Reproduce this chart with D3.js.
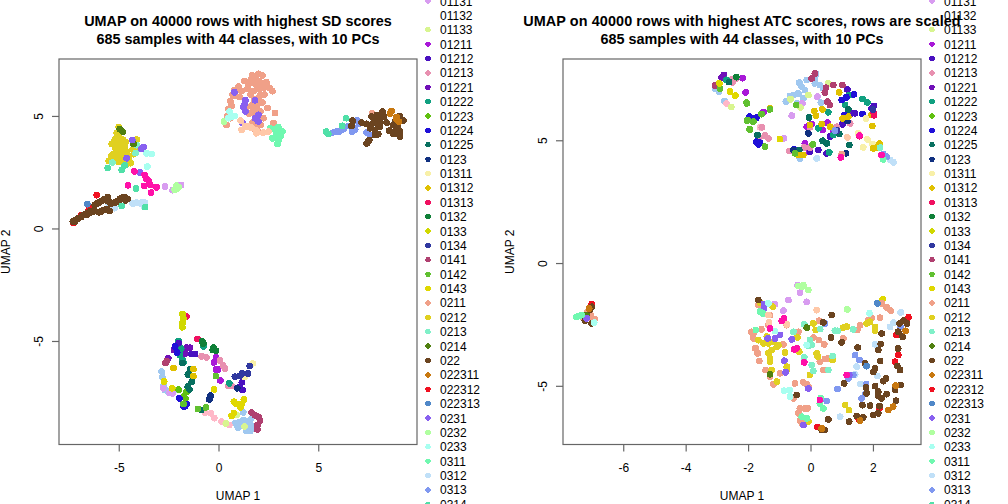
<!DOCTYPE html>
<html>
<head>
<meta charset="utf-8">
<script src="https://cdn.jsdelivr.net/npm/d3@7"></script>
<style>
html, body { margin: 0; padding: 0; background: #fff; overflow: hidden; }
text { font-family: "Liberation Sans", Arial, sans-serif; fill: #000; }
</style>
</head>
<body>
<svg id="chart" width="1008" height="504"></svg>
<script>
// legend entries that are visible (the rest of the R legend runs off the device)
var legendLabels = ["01131","01132","01133","01211","01212","01213","01221","01222","01223","01224","01225","0123","01311","01312","01313","0132","0133","0134","0141","0142","0143","0211","0212","0213","0214","022","022311","022312","022313","0231","0232","0233","0311","0312","0313","0314"];
var legendColors = ["#d89cf0","#ffffff","#d8f590","#a818d8","#4a10c0","#e890b0","#7010b8","#10a080","#60c010","#2010d8","#087060","#103080","#f8f0a8","#e0c000","#f01060","#108038","#d0d800","#3038a0","#b04070","#60c030","#e0d800","#f0a088","#e0d020","#80f0c8","#508010","#6b4420","#c87810","#f01020","#5088c8","#8860f0","#b0ffa0","#a8fff0","#70f8b0","#c0e0f8","#8098f0","#50e0a8"];
// classes whose legend rows are cut off
var hiddenLabels = ["hiddenBlue","hiddenPink","hiddenPeach","hiddenMagenta"];
var hiddenColors = ["#a0c8f0","#ffb8c8","#ffc8a8","#ff10a8"];

// SD panel, [UMAP 1, UMAP 2] per class
var sd_hiddenBlue = [[-2.85,-6.36],[-2.82,-6.6],[-2.73,-6.8],[-2.76,-6.99],[-2.68,-7.18],[-2.51,-7.25],[-2.26,-7.25],[0.91,-8.73],[1.05,-8.6],[1.24,-8.51],[1.49,-8.58],[1.6,-8.5],[1.74,-8.81],[1.38,-8.99],[1.6,-8.99],[0.83,-8.65],[1.24,-8.17],[1.15,-8.7],[1.4,-8.75],[1.55,-8.7],[1.0,-8.85]];
var sd_hiddenPink = [[-0.67,-8.18],[-0.38,-8.21],[-0.21,-8.43],[0.15,-8.58],[0.54,-8.73]];
var sd_01131 = [[-2.68,1.86],[-2.3,1.7],[-1.88,1.93],[-2.3,-7.33],[-2.77,-7.1],[-2.45,-7.3]];
var sd_01133 = [[0.37,-8.66],[0.91,-8.29],[1.3,-8.8]];
var sd_01211 = [[-0.13,-5.72],[-0.23,-5.95],[-0.13,-6.27],[-0.03,-6.27],[0.09,-6.75]];
var sd_01212 = [[-2.0,-5.1],[-1.35,-5.58],[-1.18,-5.58],[1.17,-6.84],[1.2,-7.18],[1.07,-7.05]];
var sd_01213 = [[-0.85,-5.68],[-0.6,-5.73],[0.07,-5.86],[0.24,-6.1],[0.32,-6.22],[0.5,-7.0],[0.67,-7.0]];
var sd_01221 = [[-1.6,-5.3],[-1.43,-5.3],[-2.23,-5.4],[-1.68,-5.55],[-2.52,-5.77]];
var sd_01222 = [[-0.76,-5.24],[-2.0,-5.0],[-1.87,-5.33],[-1.93,-5.62],[-1.8,-5.85],[-1.76,-5.96],[-1.54,-7.03],[0.54,-6.88]];
var sd_01223 = [[-1.6,-7.26],[-1.76,-7.47],[-1.66,-7.55],[-2.0,-7.16]];
var sd_01224 = [[-2.18,-5.25],[-2.07,-5.52],[-1.96,-7.55],[-1.68,-7.9],[-1.76,-7.9],[-1.6,-7.8]];
var sd_01225 = [[-1.42,-6.26],[-1.54,-6.49],[-1.34,-6.81],[-1.54,-7.03],[-1.8,-5.98],[-0.87,-8.07],[-1.46,-7.15]];
var sd_0123 = [[-0.39,-7.43],[-0.46,-7.6],[0.94,-7.1]];
var sd_01311 = [[1.71,-6.0],[1.3,-6.6]];
var sd_01312 = [[-2.26,-6.2],[-1.26,-6.25],[-1.26,-6.56]];
var sd_01313 = [[-1.61,-3.92],[-1.06,-4.91]];
var sd_0132 = [[-0.81,-5.02],[-0.76,-5.12],[-0.26,-5.3],[-0.13,-5.43],[-0.29,-5.4]];
var sd_0133 = [[-1.8,-3.8],[-1.76,-4.0],[-1.8,-4.2],[-1.81,-4.39]];
var sd_0134 = [[0.82,-6.59],[1.07,-6.55],[1.2,-6.44],[1.48,-6.44],[1.57,-6.11]];
var sd_0141 = [[-2.6,-5.9],[-2.66,-5.98],[1.66,-8.18],[1.83,-8.3],[2.0,-8.37],[2.08,-8.55],[1.95,-8.74],[1.95,-8.93]];
var sd_0142 = [[-0.13,-6.56],[-1.76,-7.8],[-1.03,-8.02],[-0.63,-7.95]];
var sd_0143 = [[-0.22,-7.15],[0.77,-7.7],[0.9,-7.8],[1.1,-7.95],[1.27,-7.6],[1.16,-7.8],[0.77,-8.2],[0.66,-8.33],[-2.72,-6.8],[-2.32,-7.1]];
var sd_0211 = [[1.7,6.8],[2,6.87],[2.2,6.8],[2.4,6.5],[1.6,6.5],[1.85,6.4],[2.15,6.45],[2.55,6.25],[2.7,6.1],[1.45,6.2],[1.75,6.1],[2.0,6.2],[0.75,5.9],[1.05,5.85],[0.6,5.65],[1.4,5.4],[2.0,5.8],[2.2,5.6],[2.45,5.35],[1.55,5.1],[1.9,5.4],[2.1,5.2],[0.5,5.3],[0.45,5.0],[0.6,4.9],[0.4,4.6],[1.9,4.9],[1.7,4.7],[2.1,4.6],[1.8,4.4],[2.0,4.3],[2.83,5.13],[2.25,4.9],[2.75,4.69],[2.85,4.5],[7.7,5.12],[1.0,6.3],[0.8,6.15],[0.7,5.95],[1.15,6.1],[1.65,6.65],[1.85,6.65],[2.0,6.55],[2.25,6.25],[1.6,5.95],[1.8,5.75],[2.0,5.55],[1.95,5.2],[1.75,5.3],[1.85,5.05],[2.1,5.95],[1.7,5.5],[2.3,5.95],[0.65,5.45],[1.5,6.4],[1.3,6.55],[1.95,4.6]];
var sd_0212 = [[-5.0,4.5],[-4.9,4.35],[-5.1,4.25],[-5.05,4.05],[-5.2,3.95],[-5.35,3.75],[-5.2,3.65],[-5.0,3.8],[-4.8,3.95],[-4.65,3.85],[-4.7,3.6],[-4.95,3.5],[-5.15,3.4],[-5.35,3.25],[-5.1,3.2],[-4.85,3.3],[-4.6,3.4],[-4.5,3.15],[-4.4,2.9],[-4.6,2.85],[-5.5,3.0],[-5.2,3.05],[-5.0,2.95],[-4.75,3.05],[-4.3,3.9],[-4.1,3.95],[-4.15,3.6],[-4.3,3.5],[-4.25,3.3],[-4.95,4.25],[-5.1,3.75],[-4.9,3.65],[-5.25,3.3],[-5.0,3.1],[-4.75,3.45],[-4.9,3.1],[-5.15,3.55],[-4.85,3.75],[-4.65,3.2],[-5.4,3.1],[-4.55,3.0]];
var sd_0213 = [[-5.32,2.93],[-4.1,3.7],[-4.15,3.35]];
var sd_0214 = [[-4.95,4.42],[-4.8,4.3],[-4.25,3.75]];
var sd_022 = [[-7.3,0.3],[-7.15,0.38],[-7.0,0.46],[-6.85,0.55],[-6.7,0.62],[-6.55,0.68],[-6.4,0.72],[-6.2,0.78],[-6.0,0.72],[-5.8,0.8],[-5.6,0.85],[-5.45,0.78],[-6.2,1.05],[-6.0,1.15],[-5.8,1.25],[-5.55,1.4],[-5.5,1.2],[-5.4,1.1],[-5.2,1.15],[-5.0,1.2],[-4.85,1.35],[-4.7,1.4],[-4.55,1.3],[6.72,4.79],[6.67,4.55],[7.18,4.7],[7.43,4.65],[7.68,4.97],[7.93,5.04],[8.23,5.19],[8.3,4.97],[7.76,4.68],[7.6,4.45],[7.85,4.37],[8.1,4.52],[7.85,4.15],[8.01,4.19],[7.56,3.93],[7.43,3.78],[7.5,3.87],[8.56,4.35],[8.43,4.7],[8.76,4.59],[8.85,4.74],[8.93,4.37],[9.1,4.3],[9.1,4.08],[9.27,4.79],[9.07,5.0],[-7.2,0.3],[-7.05,0.42],[-6.9,0.5],[-6.75,0.6],[-6.6,0.62],[-6.45,0.75],[-6.3,0.75],[-5.9,0.75],[-5.7,0.83],[-6.1,1.1],[-5.9,1.2],[-5.7,1.3],[-5.6,1.25],[-5.1,1.2],[-4.95,1.3],[-4.78,1.4],[-4.65,1.25],[8.1,4.75],[7.9,4.8],[8.0,4.6],[8.15,4.95],[8.75,4.2],[8.9,4.2],[9.0,4.5]];
var sd_022311 = [[8.68,5.22],[8.6,5.1],[8.93,4.85],[8.93,4.95],[9.05,4.74]];
var sd_022312 = [[-6.5,0.85],[-6.35,0.9],[-6.1,1.48],[-6.9,0.58],[-7.27,0.25]];
var sd_022313 = [[-6.58,1.08]];
var sd_0231 = [[-3.93,2.48],[-3.85,3.53],[-3.75,3.62],[-4.32,3.93],[-4.6,3.12],[0.8,6.05],[1.35,5.7],[1.25,5.4],[1.35,5.2],[1.3,5.5],[1.83,5.7],[2.0,5.05],[1.83,4.9],[2.0,4.75],[1.2,4.7]];
var sd_0232 = [[-2.08,1.78],[-2,1.85],[-2.2,1.72],[-2.1,1.9],[0.28,4.75]];
var sd_0233 = [[-3.6,3.34],[-3.35,3.31],[-3.57,2.75],[0.55,5.2],[0.5,4.9],[0.82,5.0],[0.65,4.95]];
var sd_0311 = [[2.7,4.0],[2.8,4.4],[2.9,4.2],[3.0,4.5],[3.1,4.1],[3.0,3.9],[3.2,4.3],[2.95,3.75],[2.6,4.45],[2.85,4.05]];
var sd_0312 = [[-5.5,1.1],[-5.2,1.15],[-5.3,0.95],[-5.2,0.9],[-5.35,1.05],[-4.3,1.1],[-4.1,1.15],[-3.9,1.1],[-3.8,1.18],[-3.7,1.15],[-3.75,1.0]];
var sd_0313 = [[5.7,4.25],[5.9,4.3],[6.05,4.3],[6.3,4.45],[6.5,4.55],[6.2,4.4],[6.7,4.3],[6.75,4.5],[6.95,4.8],[7.05,4.65],[6.85,4.4],[7.43,4.26],[7.6,4.13]];
var sd_0314 = [[-4.85,1.0],[-3.68,0.95],[-4.13,1.78],[-5.55,2.68],[-4.85,2.6],[-4.7,2.8],[5.4,4.3],[5.5,4.2],[6.4,4.9],[6.2,4.56]];
var sd_hiddenPeach = [[1.11,4.79],[1.16,4.38],[1.5,4.52],[1.35,4.54],[1.65,4.48],[1.9,4.23],[1.9,4.35],[2.25,4.26],[2.5,4.3]];
var sd_hiddenMagenta = [[-4.22,2.54],[-4.53,1.92],[-3.73,1.89],[-3.42,1.93],[-3.1,1.83],[-3.38,1.59],[-3.7,2.38],[-3.62,2.22],[-3.5,2.12]];

// ATC panel
var atc_hiddenBlue = [[-3.06,7.1],[-2.93,6.99],[-2.75,6.6],[0.18,7.7],[0.14,7.52],[-0.12,7.45],[-0.36,7.35],[-0.28,7.18],[-0.18,7.05],[0.14,7.32],[0.3,7.25],[0.41,7.11],[-0.55,6.84],[-0.39,6.91],[-0.66,6.8],[-0.79,6.57],[-0.44,6.5],[-0.23,6.71],[0.33,6.53],[-0.34,4.26]];
var atc_hiddenPink = [[-2.69,6.5],[-1.62,5.53]];
var atc_01131 = [[0.22,6.78],[-0.26,6.5],[-0.6,6.0],[-0.85,5.08],[-0.34,-1.21],[-0.41,-0.9],[-0.71,-1.51],[-0.12,-1.58],[-1.14,-1.67],[-0.87,-1.94]];
var atc_01133 = [[-2.54,6.36],[0.57,7.32],[-0.07,6.84],[-0.64,6.67],[-0.32,6.33]];
var atc_01211 = [[-2.18,7.53],[-2.08,6.95],[-1.51,6.15],[-0.18,4.87],[0.54,5.72],[0.04,5.66],[0.39,5.42],[-0.12,5.55],[0.73,5.38],[-0.05,4.53]];
var atc_01212 = [[1.18,7.07],[1.32,6.1],[1.43,6.1],[1.02,5.65],[0.63,5.15],[0.78,5.42],[0.25,4.6],[0.52,4.47],[-0.02,4.53],[2.03,6.4],[1.96,6.3],[-1.83,5.89]];
var atc_01213 = [[-2.53,7.48],[-2.38,7.52],[-2.5,7.35],[-1.56,5.53],[-1.46,5.19],[-1.35,5.08],[-1.64,5.12],[-0.02,5.53],[-0.21,4.71],[-0.02,4.7],[0.84,5.55],[1.27,5.69],[-0.68,4.56]];
var atc_01221 = [[-2.77,7.66],[-2.85,7.55],[1.2,6.12]];
var atc_01222 = [[-2.69,7.46],[1.24,6.84],[1.11,6.44],[1.67,6.68],[1.82,6.54],[0.57,6.14],[0.25,5.49],[0.73,5.21],[0.6,4.51]];
var atc_01224 = [[-1.95,5.93],[-1.96,5.96],[-1.73,5.92],[-1.73,4.94],[-1.67,4.83],[-1.62,4.9],[1.0,6.64],[1.39,6.87],[1.09,6.03],[1.67,6.07],[-0.53,4.63],[1.15,6.75]];
var atc_01225 = [[-2.61,7.37],[1.21,6.26],[-0.05,5.93],[0.39,4.98],[0.52,4.87],[1.24,4.81],[0.92,5.25],[-0.36,4.6],[-1.7,5.21]];
var atc_0123 = [[-0.07,5.28],[1.18,5.78],[1.14,4.47],[-0.55,4.6]];
var atc_01311 = [[1.78,5.89],[1.82,5.04],[1.53,5.28],[1.69,4.71],[1.99,4.85]];
var atc_01312 = [[0.92,6.95],[0.12,6.19],[0.17,6],[0.38,6.26],[-1.3,6.3],[1.03,5.89],[1.21,5.96],[1.98,5.58],[0.36,5.66],[-0.02,5.62],[0.63,5.55],[1.96,6.03],[-0.39,4.4],[-0.23,4.4],[2.12,4.71],[2.01,4.67],[2.21,4.87]];
var atc_01313 = [[2.01,6.16],[2.03,6.02],[1.57,5.17]];
var atc_0132 = [[-2.38,7.57]];
var atc_0134 = [[2.0,6.25],[0.85,5.4]];
var atc_0141 = [[-3.06,7.23],[0.04,7.52],[0.14,7.72],[0.5,7.14],[0.73,7.25],[0.46,6.94],[1.02,7.25],[0.54,6.57],[0.62,6.44]];
var atc_0142 = [[-2.9,7.1],[-2.04,6.5],[-2.02,5.8],[-1.95,5.45],[-2.02,5.82],[-1.83,5.76],[-1.94,5.44],[-1.46,4.74],[-1.57,6.06],[-1.3,6.26],[-2.05,6.53],[0.07,4.83],[-0.5,4.47],[-0.46,6.44]];
var atc_0143 = [[-2.92,7.32],[-2.58,6.99],[-2.41,6.82],[-0.98,5.05],[2.31,-1.48]];
var atc_0211 = [[-7.07,-2.05],[-7.12,-2.19],[-7.01,-2.25],[-6.91,-2.28],[-7.28,-2.25],[-7.15,-1.98],[-7.05,-2.12],[-1.67,-1.71],[-1.89,-2.8],[-1.83,-3.07],[-1.78,-3.47],[-1.69,-3.68],[-1.64,-3.99],[-1.44,-4.36],[-1.3,-4.63],[-1.19,-4.94],[-1.57,-2.7],[-0.87,-3.31],[-0.98,-4.49],[-0.5,-4.9],[-0.23,-4.86],[-0.12,-4.94],[-0.07,-5.04],[0.3,-4.02],[0.46,-3.91],[0.57,-3.88],[0.41,-4.36],[0.09,-3.04],[0.27,-3.14],[0.44,-3.31],[1.05,-3.07],[-0.39,-2.8],[-1.3,-2.12],[-0.55,-5.51],[-0.34,-5.92],[-0.39,-6.12],[-0.34,-6.4],[-0.18,-5.92],[-0.09,-5.92],[-0.28,-6.53],[-1.83,-2.87],[-1.75,-3.48],[-0.76,-2.53],[-0.55,-2.8],[-1.35,-2.53],[2.28,-1.64],[2.44,-1.81],[2.57,-1.94],[2.23,-2.23],[1.96,-2.23],[1.85,-2.33],[1.59,-2.53],[1.5,-2.73],[0.28,-2.35],[1.0,4.44],[1.18,5.12]];
var atc_0212 = [[-1.62,-1.62],[-1.21,-1.78],[-1.67,-3.14],[-1.51,-3.27],[-1.35,-3.27],[-1.19,-3.2],[-1.08,-3.41],[-1.03,-3.34],[-1.24,-3.54],[-1.35,-3.68],[-1.3,-3.88],[-1.3,-4.02],[-1.24,-4.36],[-1.4,-3.0],[-0.82,-3.64],[-0.76,-4.22],[-0.76,-4.36],[-1.08,-4.83],[0.2,-3.68],[0.23,-3.81],[0.7,-3.95],[-0.02,-4.56],[-0.42,-3.03],[-0.36,-3.61],[0.17,-2.73],[0.09,-2.46],[1.05,-2.63],[1.16,-2.59],[1.11,-5.78],[1.23,-5.99],[-0.07,-6.46],[1.8,-2.46],[1.91,-2.39],[2.07,-2.6],[2.07,-2.76]];
var atc_0213 = [[-0.07,-3.37],[0.04,-3.34],[-0.02,-3.14],[-0.2,-3.84],[0.04,-4.16],[0.09,-4.4],[0.57,-4.36],[0.71,-3.79],[0.78,-2.76],[0.87,-2.76],[1.37,-2.7],[0.31,-2.69],[-0.2,-2.5],[-0.55,-2.8],[-1.51,-2.05],[2.23,4.7]];
var atc_0214 = [[-7.17,-2.12],[-0.12,-2.63],[-1.3,-4.53]];
var atc_022 = [[-7.01,-1.78],[-7.07,-1.89],[-7.23,-2.35],[-7.01,-2.46],[-1.67,-1.51],[0.68,-2.12],[0.41,-2.42],[2.98,-2.35],[3.09,-2.46],[2.85,-2.46],[2.81,-2.8],[2.95,-3.0],[2.28,-2.87],[0.66,-3.03],[1.0,-3.23],[1.51,-3.44],[2.25,-3.3],[2.17,-3.54],[2.81,-3.48],[2.23,-3.99],[1.75,-4.09],[2.78,-4.2],[2.87,-4.36],[2.07,-4.29],[2.01,-4.43],[2.42,-4.7],[2.33,-4.81],[1.08,-4.9],[2.89,-4.97],[2.71,-5.17],[2.07,-5.01],[1.78,-5.07],[1.8,-5.31],[2.17,-5.24],[2.17,-5.42],[2.44,-5.34],[2.28,-5.51],[2.74,-5.61],[-0.44,-5.38],[1.91,-5.81],[1.66,-5.79],[2.21,-5.83],[2.17,-6.12],[2.01,-6.19],[1.69,-6.29],[1.48,-6.23],[1.24,-6.46],[0.57,-6.37],[0.46,-6.8],[0.36,-6.8]];
var atc_022311 = [[-7.09,-1.85],[3.05,-2.76],[2.73,-4.99],[2.49,-5.99],[2.65,-5.85],[1.59,-6.42],[0.36,-6.74]];
var atc_022312 = [[-7.01,-1.67],[2.76,-2.93],[2.81,-3.75],[2.71,-4.02],[2.21,-5.92],[1.55,-6.37],[0.22,-6.68],[3.14,-2.21]];
var atc_022313 = [[2.14,-1.64],[1.8,-4.2]];
var atc_0231 = [[-7.17,-2.25],[-1.49,-1.67],[-1.49,-1.85],[-1.37,-3.07],[-1.14,-3.07],[-0.98,-2.93],[-0.6,-3.11],[-0.84,-3.98],[-0.8,-4.45],[-0.07,-5.11],[-0.23,-6.6],[1.24,-4.56]];
var atc_0232 = [[-0.28,-0.96],[-0.39,-0.94],[-0.23,-0.9],[-0.07,-1.1],[1.18,-1.89]];
var atc_0233 = [[-6.93,-2.43],[-1.35,-1.64],[-0.12,-3.34],[-1.14,-2.77],[-0.85,-5.2],[-0.66,-5.44],[-0.66,-5.17],[1.89,-2.05]];
var atc_0311 = [[-7.5,-2.19],[-7.39,-2.15],[-7.34,-2.12],[-1.53,-2.05],[-1.62,-1.98],[-1.75,-2.73],[0.3,-5.72],[0.41,-5.92],[0.33,-5.5],[-0.28,-6.26],[-0.12,-6.33],[2.33,4.22]];
var atc_0312 = [[0.2,4.26],[2.55,4.2],[2.66,4.1],[0.95,-6.26],[2.07,-3.31],[1.48,-4.22],[1.59,-4.93],[1.43,-4.54],[2.55,-2.6],[2.66,-2.43],[2.14,-4.6],[2.89,-2.01]];
var atc_0313 = [[2.33,4.44],[2.44,4.33],[0.78,5.39],[2.89,-2.6],[1.43,-3.75],[1.57,-3.95],[1.21,-4.7],[1.37,-4.56],[0.87,-5.13],[1.78,-4.93],[1.77,-5.31],[1.64,-5.51],[0.46,-2.46],[0.52,-5.62]];
var atc_hiddenPeach = [[1.18,5.12],[-1.33,-2.42],[0.2,-1.92],[-1.35,-2.12],[-0.76,-2.5]];
var atc_hiddenMagenta = [[0.97,4.3],[1.57,5.19],[2.28,4.4],[-1.3,-2.66],[-0.85,-2.25],[-0.92,-2.36],[-0.44,-3.47],[-0.52,-3.52],[-0.2,-4.05],[1.16,-4.56],[0.3,-5.58]];

var sdSeries = [["hiddenBlue",sd_hiddenBlue],["hiddenPink",sd_hiddenPink],["01131",sd_01131],["01133",sd_01133],["01211",sd_01211],["01213",sd_01213],["01221",sd_01221],["01222",sd_01222],["01212",sd_01212],["01223",sd_01223],["01224",sd_01224],["01225",sd_01225],["0123",sd_0123],["01311",sd_01311],["01312",sd_01312],["01313",sd_01313],["0132",sd_0132],["0133",sd_0133],["0134",sd_0134],["0141",sd_0141],["0142",sd_0142],["0143",sd_0143],["0211",sd_0211],["0212",sd_0212],["0213",sd_0213],["0214",sd_0214],["0312",sd_0312],["0313",sd_0313],["022312",sd_022312],["022",sd_022],["022311",sd_022311],["022313",sd_022313],["0231",sd_0231],["0232",sd_0232],["0233",sd_0233],["0311",sd_0311],["0314",sd_0314],["hiddenPeach",sd_hiddenPeach],["hiddenMagenta",sd_hiddenMagenta]];
var atcSeries = [["hiddenBlue",atc_hiddenBlue],["hiddenPink",atc_hiddenPink],["01131",atc_01131],["01133",atc_01133],["01211",atc_01211],["01212",atc_01212],["01213",atc_01213],["01221",atc_01221],["01222",atc_01222],["01224",atc_01224],["01225",atc_01225],["0123",atc_0123],["01311",atc_01311],["01312",atc_01312],["01313",atc_01313],["0132",atc_0132],["0134",atc_0134],["0141",atc_0141],["0142",atc_0142],["0143",atc_0143],["0211",atc_0211],["0212",atc_0212],["0213",atc_0213],["0214",atc_0214],["0312",atc_0312],["0313",atc_0313],["022312",atc_022312],["022",atc_022],["022311",atc_022311],["022313",atc_022313],["0231",atc_0231],["0232",atc_0232],["0233",atc_0233],["0311",atc_0311],["hiddenPeach",atc_hiddenPeach],["hiddenMagenta",atc_hiddenMagenta]];

var sdXTicks = [-5, 0, 5], sdYTicks = [-5, 0, 5];
var atcXTicks = [-6, -4, -2, 0, 2], atcYTicks = [-5, 0, 5];
var titleLine2 = "685 samples with 44 classes, with 10 PCs";

var svg = d3.select("#chart");
var color = d3.scaleOrdinal(legendLabels.concat(hiddenLabels), legendColors.concat(hiddenColors));

function renderPanel(cfg) {
    var left = cfg.left, right = left + 358, top = 59, bottom = 444.5;
    var x = d3.scaleLinear().domain(cfg.xDomain).range([left, right]);
    var y = d3.scaleLinear().domain(cfg.yDomain).range([bottom, top]);
    var g = svg.append("g");

    var points = [];
    cfg.series.forEach(function (s) {
        s[1].forEach(function (p) { points.push({ k: s[0], x: p[0], y: p[1] }); });
    });
    g.selectAll("circle").data(points).enter().append("circle")
        .attr("cx", function (d) { return x(d.x); })
        .attr("cy", function (d) { return y(d.y); })
        .attr("r", 3.4)
        .attr("shape-rendering", "crispEdges")
        .style("fill", function (d) { return color(d.k); });

    g.append("rect").attr("x", left).attr("y", top)
        .attr("width", right - left).attr("height", bottom - top)
        .style("fill", "none").style("stroke", "#666").style("stroke-width", 1.2);

    // R prints a plain hyphen on its axes
    var xa = g.append("g").attr("transform", "translate(0," + bottom + ")")
        .call(d3.axisBottom(x).tickValues(cfg.xTicks).tickSize(7).tickPadding(12).tickFormat(String));
    var ya = g.append("g").attr("transform", "translate(" + left + ",0)")
        .call(d3.axisLeft(y).tickValues(cfg.yTicks).tickSize(7).tickFormat(String));
    [xa, ya].forEach(function (a) {
        a.select(".domain").remove();
        a.selectAll("line").style("stroke", "#666").style("stroke-width", 1.2);
        a.selectAll("text").attr("font-size", 12).style("font-family", "Liberation Sans");
    });
    ya.selectAll("text")
        .attr("x", null).attr("dy", null)
        .attr("text-anchor", "middle")
        .attr("transform", function () { return "translate(-16,0) rotate(-90)"; })
        .attr("y", 0);

    g.append("text").text("UMAP 1").attr("x", (left + right) / 2).attr("y", 500)
        .attr("text-anchor", "middle").attr("font-size", 12);
    g.append("text").text("UMAP 2").attr("text-anchor", "middle").attr("font-size", 12)
        .attr("transform", "translate(" + (left - 49) + "," + ((top + bottom) / 2) + ") rotate(-90)");

    // legend sits outside the box and is clipped by the window
    var rowStep = 14.38;
    legendLabels.forEach(function (lab, i) {
        var ly = 1 + i * rowStep;
        g.append("circle").attr("cx", right + 11).attr("cy", ly).attr("r", 2.7)
            .attr("shape-rendering", "crispEdges").style("fill", color(lab));
        g.append("text").text(lab).attr("x", right + 23).attr("y", ly + 4.5).attr("font-size", 12);
    });

    g.append("text").text(cfg.title).attr("x", (left + right) / 2).attr("y", 26)
        .attr("text-anchor", "middle").attr("font-size", 14.4).attr("font-weight", "bold")
        .style("letter-spacing", cfg.titleSpacing);
    g.append("text").text(titleLine2).attr("x", (left + right) / 2).attr("y", 44)
        .attr("text-anchor", "middle").attr("font-size", 14.4).attr("font-weight", "bold");
}

renderPanel({
    left: 59, xDomain: [-7.995, 9.95], yDomain: [-9.6, 7.53],
    xTicks: sdXTicks, yTicks: sdYTicks, series: sdSeries, titleSpacing: "0px",
    title: "UMAP on 40000 rows with highest SD scores"
});
renderPanel({
    left: 563, xDomain: [-7.93, 3.54], yDomain: [-7.39, 8.31],
    xTicks: atcXTicks, yTicks: atcYTicks, series: atcSeries, titleSpacing: "0.1px",
    title: "UMAP on 40000 rows with highest ATC scores, rows are scaled"
});
</script>
</body>
</html>
